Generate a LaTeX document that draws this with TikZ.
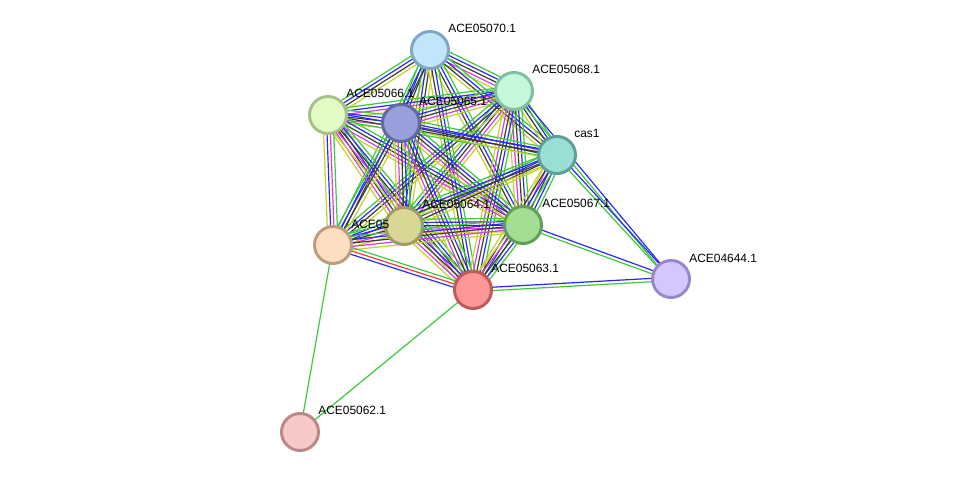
\documentclass[tikz,border=0pt]{standalone}
\usepackage{fontspec}
\setmainfont{Liberation Sans}
\usetikzlibrary{calc, backgrounds}

% evidence colours
\definecolor{evgreen}{HTML}{3DC83D}
\definecolor{evblue}{HTML}{2A2AF5}
\definecolor{evblack}{HTML}{3A3A3A}
\definecolor{evpink}{HTML}{D93BD9}
\definecolor{evyellow}{HTML}{C5D02B}
\definecolor{evred}{HTML}{F03A3A}

% protein colours
\definecolor{f70}{HTML}{C2E6F9}\definecolor{d70}{HTML}{7FA6C2}
\definecolor{f68}{HTML}{C3F8DA}\definecolor{d68}{HTML}{82BFA0}
\definecolor{f66}{HTML}{E2FBC4}\definecolor{d66}{HTML}{A8BF88}
\definecolor{f65}{HTML}{97A0DB}\definecolor{d65}{HTML}{6069A2}
\definecolor{fcas}{HTML}{9ADFD6}\definecolor{dcas}{HTML}{5F9E97}
\definecolor{f64}{HTML}{DAD796}\definecolor{d64}{HTML}{A09C62}
\definecolor{f67}{HTML}{A2DE93}\definecolor{d67}{HTML}{5F9F58}
\definecolor{f69}{HTML}{FDDEC0}\definecolor{d69}{HTML}{BC9C7C}
\definecolor{f63}{HTML}{FE9696}\definecolor{d63}{HTML}{BE5A5A}
\definecolor{f44}{HTML}{D5C6FE}\definecolor{d44}{HTML}{9A87C8}
\definecolor{f62}{HTML}{F8C8C8}\definecolor{d62}{HTML}{BA8888}

\tikzset{
  prot/.style={circle, inner sep=0pt, minimum size=0.925cm, line width=2.1pt},
  lbl/.style={anchor=west, inner sep=0pt, font=\fontsize{8.5}{10}\selectfont},
  evline/.style={line width=0.85pt}
}

% one parallel line per evidence channel
\newcommand{\evlink}[3]{%
  \foreach \evc [count=\k] in {#3} {\xdef\nev{\k}}%
  \foreach \evc [count=\k] in {#3} {%
    \pgfmathsetmacro{\off}{((\nev+1)/2-\k)*2.4}%
    \draw[evline, draw=\evc] ($(#1)!\off pt!90:(#2)$) -- ($(#2)!\off pt!-90:(#1)$);
  }}

\begin{document}
\begin{tikzpicture}[x=0.025cm, y=-0.025cm]
\useasboundingbox (0,0) rectangle (975,477);

% Proteins
\node[prot, fill=f70, draw=d70] (n70) at (430,50) {};
\node[prot, fill=f68, draw=d68] (n68) at (514,91) {};
\node[prot, fill=f66, draw=d66] (n66) at (328,115) {};
\node[prot, fill=f65, draw=d65] (n65) at (401,123) {};
\node[prot, fill=fcas, draw=dcas] (cas1) at (557,155) {};
\node[prot, fill=f69, draw=d69] (n69) at (333,245) {};
\node[prot, fill=f64, draw=d64] (n64) at (404,226) {};
\node[prot, fill=f67, draw=d67] (n67) at (523,225) {};
\node[prot, fill=f63, draw=d63] (n63) at (473,290) {};
\node[prot, fill=f44, draw=d44] (n4644) at (671,279) {};
\node[prot, fill=f62, draw=d62] (n62) at (300,432) {};

% Labels
\node[lbl] (l70) at ($(n70)+(18,-22)$) {ACE05070.1};
\node[lbl] (l68) at ($(n68)+(18,-22)$) {ACE05068.1};
\node[lbl] (l66) at ($(n66)+(18,-22)$) {ACE05066.1};
\node[lbl] (l65) at ($(n65)+(18,-22)$) {ACE05065.1};
\node[lbl] (lcas) at ($(cas1)+(17,-22)$) {cas1};
\node[lbl] (l69) at ($(n69)+(18,-21)$) {ACE05};
\node[lbl] (l64) at ($(n64)+(18,-22)$) {ACE05064.1};
\node[lbl] (l67) at ($(n67)+(19,-22)$) {ACE05067.1};
\node[lbl] (l63) at ($(n63)+(18,-22)$) {ACE05063.1};
\node[lbl] (l4644) at ($(n4644)+(18,-21)$) {ACE04644.1};
\node[lbl] (l62) at ($(n62)+(18,-22)$) {ACE05062.1};

% Edges
\begin{pgfonlayer}{background}
\evlink{n70}{n68}{evgreen,evblue,evblack,evpink,evyellow}
\evlink{n66}{n70}{evgreen,evblue,evblack,evyellow}
\evlink{n65}{n70}{evgreen,evblue,evblack,evyellow}
\evlink{n70}{cas1}{evgreen,evblue,evblack,evyellow}
\evlink{n64}{n70}{evgreen,evblue,evblack,evyellow}
\evlink{n70}{n67}{evgreen,evblue,evblack,evyellow}
\evlink{n69}{n70}{evgreen,evblue,evblack}
\evlink{n70}{n63}{evgreen,evblue,evblack,evyellow}
\evlink{n66}{n68}{evgreen,evblue,evpink,evyellow}
\evlink{n65}{n68}{evgreen,evblue,evblack,evpink,evyellow}
\evlink{n68}{cas1}{evgreen,evblue,evblack,evyellow}
\evlink{n64}{n68}{evgreen,evblue,evblack,evpink,evyellow}
\evlink{n68}{n67}{evgreen,evblue,evblack,evpink,evyellow}
\evlink{n69}{n68}{evgreen,evblue,evblack,evyellow}
\evlink{n68}{n63}{evgreen,evblue,evblack,evpink,evyellow}
\evlink{n66}{n65}{evgreen,evblue,evblack,evpink,evyellow}
\evlink{n66}{cas1}{evblue,evblack,evgreen}
\evlink{n66}{n64}{evgreen,evblue,evblack,evpink,evyellow}
\evlink{n66}{n67}{evgreen,evblue,evblack,evpink,evyellow}
\evlink{n66}{n69}{evgreen,evpink,evblue,evyellow}
\evlink{n66}{n63}{evgreen,evblue,evblack,evpink,evyellow}
\evlink{n65}{cas1}{evgreen,evblue,evblack,evyellow}
\evlink{n65}{n64}{evgreen,evblue,evblack,evpink,evyellow}
\evlink{n65}{n67}{evgreen,evblue,evblack,evpink,evyellow}
\evlink{n69}{n65}{evgreen,evblue,evblack,evyellow}
\evlink{n65}{n63}{evgreen,evblue,evblack,evpink,evyellow}
\evlink{n64}{cas1}{evgreen,evblue,evblack,evyellow}
\evlink{cas1}{n67}{evgreen,evblue,evblack,evpink,evyellow}
\evlink{n69}{cas1}{evgreen,evblue,evblack,evyellow}
\evlink{cas1}{n63}{evgreen,evblue,evblack,evyellow}
\evlink{n64}{n67}{evgreen,evblue,evblack,evpink,evyellow}
\evlink{n69}{n64}{evgreen,evblue,evblack,evpink,evyellow}
\evlink{n64}{n63}{evgreen,evblue,evblack,evpink,evyellow}
\evlink{n69}{n67}{evgreen,evblue,evblack,evpink,evyellow}
\evlink{n67}{n63}{evgreen,evblue,evblack,evpink,evyellow}
\evlink{n69}{n63}{evgreen,evred,evblue}
\evlink{n68}{n4644}{evblue,evgreen}
\evlink{cas1}{n4644}{evblue,evgreen}
\evlink{n67}{n4644}{evblue,evgreen}
\evlink{n63}{n4644}{evblue,evgreen}
\evlink{n69}{n62}{evgreen}
\evlink{n63}{n62}{evgreen}
\end{pgfonlayer}

\end{tikzpicture}
\end{document}
